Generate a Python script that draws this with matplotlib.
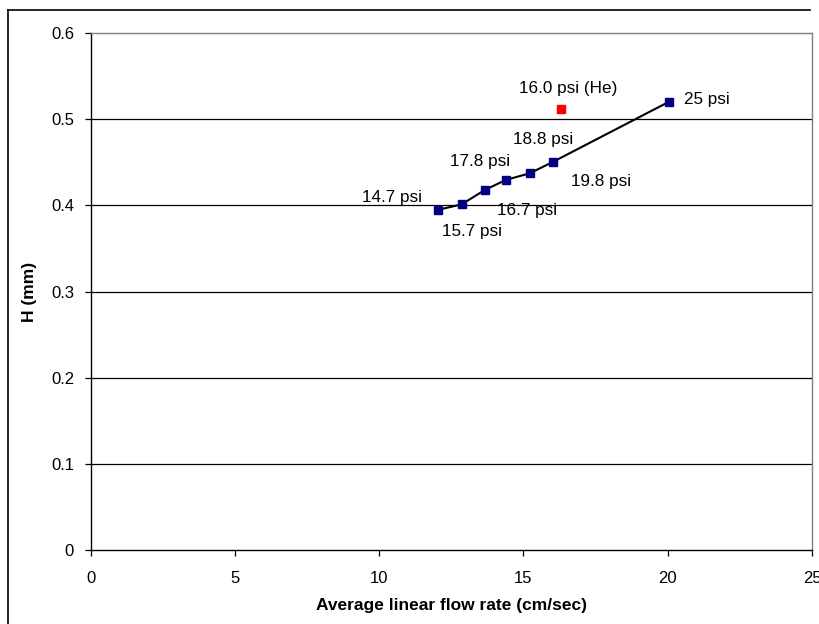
import matplotlib
matplotlib.use("Agg")
import matplotlib.pyplot as plt
from matplotlib.lines import Line2D

plt.rcParams['font.family'] = ['Liberation Sans', 'DejaVu Sans']

# Air runs at increasing inlet pressure
flow_rate = [12.02, 12.86, 13.66, 14.38, 15.22, 16.03, 20.05]
plate_height = [0.3946, 0.4012, 0.4178, 0.4294, 0.4372, 0.4506, 0.5203]
pressure_labels = ["14.7 psi", "15.7 psi", "16.7 psi", "17.8 psi",
                   "18.8 psi", "19.8 psi", "25 psi"]

# Helium run
he_flow_rate = [16.30]
he_plate_height = [0.5118]
he_label = "16.0 psi (He)"

x_ticks = [0, 5, 10, 15, 20, 25]
y_ticks = [0, 0.1, 0.2, 0.3, 0.4, 0.5, 0.6]
y_tick_labels = ["0", "0.1", "0.2", "0.3", "0.4", "0.5", "0.6"]

# label offsets (pixels) from each point
label_offsets = [(-46, 12), (10, -27), (42, -21), (-26, 19),
                 (13, 34), (48, -20), (38, 2)]
he_offset = (7, 20)

W, H = 820, 624
fig = plt.figure(figsize=(W / 100, H / 100), dpi=100)
ax = fig.add_axes([90.7 / W, 1 - 550 / H, (812 - 90.7) / W, (550 - 33) / H])

for y in y_ticks[1:-1]:
    ax.axhline(y, color="black", lw=0.9, zorder=1)

ax.plot(flow_rate, plate_height, color="black", lw=1.5, zorder=2)
ax.plot(flow_rate, plate_height, ls="none", marker="s", ms=5.5,
        mfc="#000080", mec="#000080", zorder=3)
ax.plot(he_flow_rate, he_plate_height, ls="none", marker="s", ms=5.5,
        mfc="#ff0000", mec="#ff0000", zorder=3)

for xv, yv, lab, off in zip(flow_rate, plate_height, pressure_labels, label_offsets):
    ax.annotate(lab, (xv, yv), xytext=off, textcoords="offset pixels",
                ha="center", va="center", fontsize=12.3)
ax.annotate(he_label, (he_flow_rate[0], he_plate_height[0]), xytext=he_offset,
            textcoords="offset pixels", ha="center", va="center", fontsize=12.3)

ax.set_xlim(0, 25)
ax.set_ylim(0, 0.6)
ax.set_xticks(x_ticks)
ax.set_xticklabels([str(t) for t in x_ticks])
ax.set_yticks(y_ticks)
ax.set_yticklabels(y_tick_labels)
ax.tick_params(axis="both", direction="out", length=4, width=0.9,
               color="black", labelsize=12)
ax.tick_params(axis="x", pad=11)
ax.tick_params(axis="y", pad=8)

ax.spines["left"].set_color("black")
ax.spines["bottom"].set_color("black")
ax.spines["top"].set_color("#808080")
ax.spines["right"].set_color("#808080")
for s in ax.spines.values():
    s.set_linewidth(1.0)

ax.set_xlabel("Average linear flow rate (cm/sec)", fontsize=12.5, fontweight="bold",
              labelpad=9)
ax.set_ylabel("H (mm)", fontsize=12.5, fontweight="bold", labelpad=10)

# outer chart border
fig.add_artist(Line2D([8 / W, 810 / W], [1 - 10 / H, 1 - 10 / H],
                      transform=fig.transFigure, color="black", lw=1.2))
fig.add_artist(Line2D([8 / W, 8 / W], [1 - 10 / H, 0],
                      transform=fig.transFigure, color="black", lw=1.2))

fig.savefig("out.png", dpi=100, facecolor="white")
